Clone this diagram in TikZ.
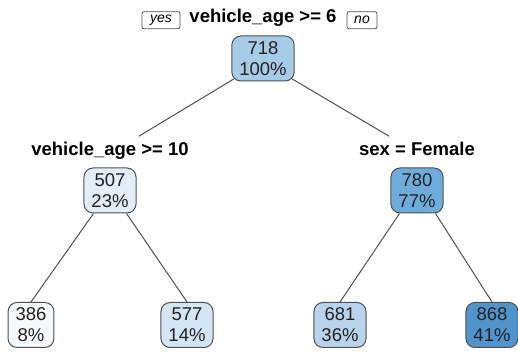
\documentclass[tikz,border=0pt]{standalone}
\usepackage{fontspec}
\setmainfont{Liberation Sans}
\usepackage{tikz}
\usetikzlibrary {positioning,calc}

\definecolor{edgegray}{HTML}{505050}
\definecolor{boxtext}{HTML}{222222}
\definecolor{blueA}{HTML}{A6CBE6}
\definecolor{blueB}{HTML}{E3EEF9}
\definecolor{blueC}{HTML}{6EADDB}
\definecolor{blueD}{HTML}{F5F9FE}
\definecolor{blueE}{HTML}{D4E5F5}
\definecolor{blueF}{HTML}{B9D3EC}
\definecolor{blueG}{HTML}{5094CB}

\begin{document}
\begin{tikzpicture}[x=1pt,y=1pt,on grid,
    leafbox/.style={draw=edgegray, line width=1pt, rounded corners=9pt,
      align=center, minimum height=45pt, inner xsep=7.5pt, inner ysep=2pt,
      text=boxtext, font=\fontsize{18.5}{21}\selectfont},
    splitlabel/.style={inner sep=0pt, text height=13.5pt, text depth=3.8pt,
      font=\fontsize{18.5}{21}\selectfont\bfseries},
    answerbox/.style={draw=edgegray, line width=0.8pt, rounded corners=2pt,
      minimum height=17pt, inner sep=0pt, font=\fontsize{14}{16}\selectfont\itshape}]

    \useasboundingbox (0,0) rectangle (518,352);

    \node[leafbox, fill=blueA] at (263,293.5) (root) {718\\100\%};
    \node[splitlabel]          (root_split) [above=41.3 of root] {vehicle\_age >= 6};
    \node[answerbox, minimum width=38pt] (yes_tag) [left=102 of root_split, yshift=-3pt] {yes};
    \node[answerbox, minimum width=30pt] (no_tag)  [right=99 of root_split, yshift=-3pt] {no};

    \node[leafbox, fill=blueB] (n507) [below left=132 and 153 of root]  {507\\23\%};
    \node[leafbox, fill=blueC] (n780) [below right=132 and 154 of root] {780\\77\%};
    \node[splitlabel] (n507_split) [above=39.5 of n507] {vehicle\_age >= 10};
    \node[splitlabel] (n780_split) [above=39.5 of n780] {sex = Female};

    \node[leafbox, fill=blueD] (n386) [below left=134.5 and 79 of n507]  {386\\8\%};
    \node[leafbox, fill=blueE] (n577) [below right=134.5 and 77 of n507] {577\\14\%};
    \node[leafbox, fill=blueF] (n681) [below left=134.5 and 77 of n780]  {681\\36\%};
    \node[leafbox, fill=blueG] (n868) [below right=134.5 and 75 of n780] {868\\41\%};

    \path[draw=edgegray, line width=1pt]
    ($(root.south west)+(2.6,2.6)$) edge ($(n507_split.north)+(29,6)$)
    ($(root.south east)+(-2.6,2.6)$) edge ($(n780_split.north)+(-28,6)$)
    ($(n507.south west)+(10,0)$) edge (n386.north)
    ($(n507.south east)+(-10,0)$) edge (n577.north)
    ($(n780.south west)+(9,0)$) edge (n681.north)
    ($(n780.south east)+(-8,0)$) edge (n868.north)
    ;

  \end{tikzpicture}
\end{document}
